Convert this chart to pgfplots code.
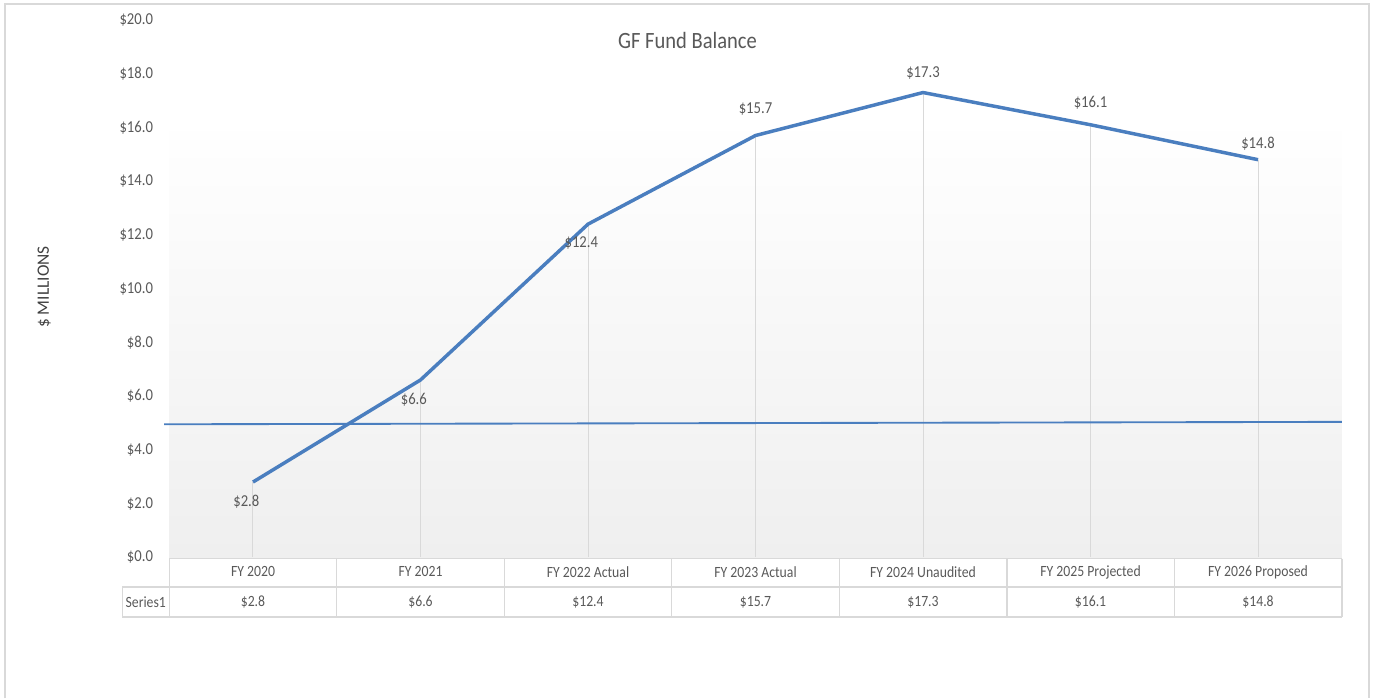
\documentclass[border=0pt]{standalone}
\usepackage{fontspec}
\setmainfont{Carlito}[FakeStretch=0.88]
\newfontfamily\labelfont{Carlito}
\usepackage{pgfplots}
\usepackage{pgfplotstable}
\pgfplotsset{compat=1.18}
\definecolor{lineblue}{HTML}{4A7EBF}
\definecolor{txt}{HTML}{595959}
\definecolor{ylab}{HTML}{404040}
\definecolor{gridc}{HTML}{D9D9D9}
\definecolor{bgbot}{HTML}{EFEFEF}
\pgfdeclareverticalshading{plotbg}{100bp}{color(0bp)=(bgbot); color(25bp)=(bgbot); color(66bp)=(white); color(100bp)=(white)}

\pgfplotstableread{
x y
0 2.8
1 6.6
2 12.4
3 15.7
4 17.3
5 16.1
6 14.8
}\gfdata

\pgfplotsset{
  dlabel/.style={draw=none, no markers,
    nodes near coords={\$\pgfmathprintnumber[fixed,fixed zerofill,precision=1]{\pgfplotspointmeta}},
    every node near coord/.append style={anchor=center, inner sep=0pt, font=\fontsize{12.5}{14}\selectfont, text=txt, #1}},
}

\begin{document}
\begin{tikzpicture}
\begin{axis}[
  /pgf/number format/assume math mode=true,
  scale only axis,
  width=879pt, height=402.75pt,
  xmin=-0.5, xmax=6.5, ymin=0, ymax=20,
  clip=false,
  axis line style={draw=none},
  tick style={draw=none},
  axis background/.style={shading=plotbg},
  xtick={0,...,6},
  xticklabels={FY 2020, FY 2021, FY 2022 Actual, FY 2023 Actual, FY 2024 Unaudited, FY 2025 Projected, FY 2026 Proposed},
  xticklabel style={anchor=center, inner sep=0pt, yshift=-11pt, font=\fontsize{11.7}{13}\selectfont, text=txt},
  ytick={0,2,...,20},
  yticklabel={\$\pgfmathprintnumber[fixed,fixed zerofill,precision=1]{\tick}},
  yticklabel style={anchor=east, inner sep=0pt, xshift=-12pt, font=\fontsize{12.5}{14}\selectfont, text=txt},
  title={GF Fund Balance},
  every axis title/.style={at={(rel axis cs:0.442,0.962)}, anchor=center, font=\fontsize{17.5}{20}\selectfont, text=txt},
  ylabel={\$ MILLIONS},
  every axis y label/.style={at={(rel axis cs:-0.1067,0.503)}, rotate=90, anchor=center, font=\labelfont\fontsize{13}{15}\selectfont, text=ylab},
]
% page bounds and frame
\path (axis cs:-1.5104,-5.2514) rectangle (axis cs:6.7104,20.745);
\draw[gridc, line width=1.5pt] (axis cs:-1.4786,-5.2514) -- (axis cs:-1.4786,20.585) -- (axis cs:6.6627,20.585) -- (axis cs:6.6627,-5.2514);
% data table grid
\draw[gridc, line width=1.1pt] (axis cs:-0.5,-0.048) -- (axis cs:6.5,-0.048);
\draw[gridc, line width=1.1pt] (axis cs:-0.78,-1.106) -- (axis cs:6.5,-1.106);
\draw[gridc, line width=1.1pt] (axis cs:-0.78,-2.223) -- (axis cs:6.5,-2.223);
\draw[gridc, line width=1.1pt] (axis cs:-0.78,-1.106) -- (axis cs:-0.78,-2.223);
\draw[gridc, line width=1.1pt] (axis cs:-0.5,-0.048) -- (axis cs:-0.5,-2.223);
\draw[gridc, line width=1.1pt] (axis cs:0.5,-0.048) -- (axis cs:0.5,-2.223);
\draw[gridc, line width=1.1pt] (axis cs:1.5,-0.048) -- (axis cs:1.5,-2.223);
\draw[gridc, line width=1.1pt] (axis cs:2.5,-0.048) -- (axis cs:2.5,-2.223);
\draw[gridc, line width=1.1pt] (axis cs:3.5,-0.048) -- (axis cs:3.5,-2.223);
\draw[gridc, line width=1.1pt] (axis cs:4.5,-0.048) -- (axis cs:4.5,-2.223);
\draw[gridc, line width=1.1pt] (axis cs:5.5,-0.048) -- (axis cs:5.5,-2.223);
\draw[gridc, line width=1.1pt] (axis cs:6.5,-0.048) -- (axis cs:6.5,-2.223);
\node[font=\fontsize{11.7}{13}\selectfont, text=txt] at (axis cs:-0.64,-1.676) {Series1};
% drop lines
\addplot[gridc, line width=0.75pt, ycomb, no markers] table[x=x, y=y] {\gfdata};
% threshold line
\addplot[lineblue, line width=1.4pt, no markers] coordinates {(-0.53,4.95) (6.5,5.04)};
% main series
\addplot[lineblue, line width=2.6pt, no markers] table[x=x, y=y] {\gfdata};
% data labels
\addplot[dlabel={xshift=-5pt, yshift=-14.5pt}] coordinates {(0,2.8) (1,6.6) (2,12.4)};
\addplot[dlabel={yshift=19.5pt}] coordinates {(3,15.7)};
\addplot[dlabel={yshift=15pt}] coordinates {(4,17.3)};
\addplot[dlabel={yshift=16.5pt}] coordinates {(5,16.1)};
\addplot[dlabel={yshift=12pt}] coordinates {(6,14.8)};
% table values row
\addplot[draw=none, no markers, point meta=explicit,
  nodes near coords={\$\pgfmathprintnumber[fixed,fixed zerofill,precision=1]{\pgfplotspointmeta}},
  every node near coord/.append style={anchor=center, inner sep=0pt, font=\fontsize{11.7}{13}\selectfont, text=txt},
] table[x=x, y expr=-1.676, meta=y] {\gfdata};
\end{axis}
\end{tikzpicture}
\end{document}
